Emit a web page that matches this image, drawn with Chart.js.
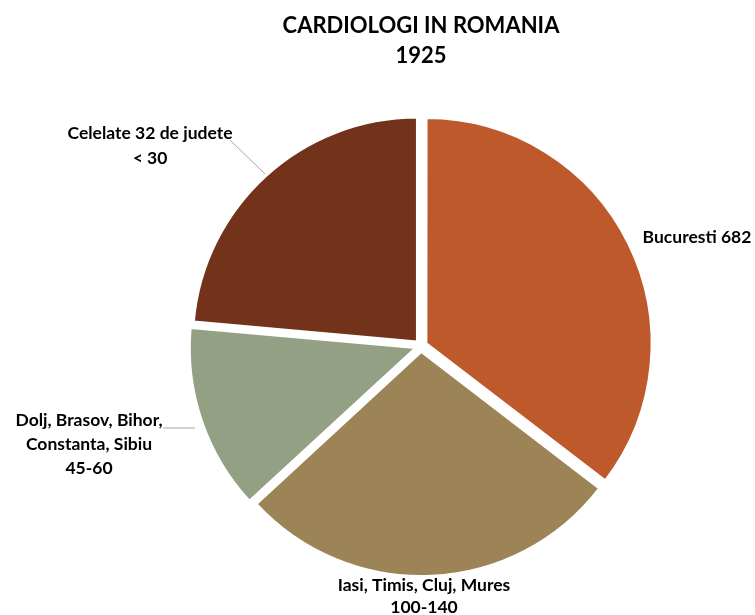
<!DOCTYPE html>
<html>
<head>
<meta charset="utf-8">
<script src="https://cdn.jsdelivr.net/npm/chart.js@4/dist/chart.umd.min.js"></script>
<style>
html, body { margin: 0; padding: 0; background: #fff; }
#wrap { width: 755px; height: 615px; position: relative; }
</style>
</head>
<body>
<div id="wrap"><canvas id="pie"></canvas></div>
<script>
// data (slice sizes estimated from the angles)
const regions = ["Bucuresti", "Iasi, Timis, Cluj, Mures", "Dolj, Brasov, Bihor, Constanta, Sibiu", "Celelate 32 de judete"]
const doctors = [682, 534, 256, 454]
const labelLines = [
    ["Bucuresti 682"],
    ["Iasi, Timis, Cluj, Mures", "100-140"],
    ["Dolj, Brasov, Bihor,", "Constanta, Sibiu", "45-60"],
    ["Celelate 32 de judete", "< 30"]
]
const colors = ["#BE592C", "#9C8456", "#94A084", "#73331A"]

// where each label sits, plus optional leader line
const labelPos = [
    {x: 697, y: 237, step: 0},
    {x: 424, y: 585, step: 22},
    {x: 89, y: 420, step: 24},
    {x: 150, y: 133, step: 25}
]
const leaders = [null, null, [[163, 428], [195, 428]], [[230, 140], [265, 174]]]

const sliceLabels = {
    id: "sliceLabels",
    afterDatasetsDraw(chart) {
        const ctx = chart.ctx
        ctx.save()
        ctx.strokeStyle = "#a6a6a6"
        ctx.lineWidth = 1
        leaders.forEach(function (l) {
            if (!l) return
            ctx.beginPath()
            ctx.moveTo(l[0][0], l[0][1])
            ctx.lineTo(l[1][0], l[1][1])
            ctx.stroke()
        })
        ctx.fillStyle = "#000"
        ctx.font = "bold 17.5px Lato"
        ctx.textAlign = "center"
        ctx.textBaseline = "middle"
        labelLines.forEach(function (lines, i) {
            lines.forEach(function (t, j) {
                ctx.fillText(t, labelPos[i].x, labelPos[i].y + j * labelPos[i].step)
            })
        })
        ctx.restore()
    }
}

new Chart(document.getElementById("pie"), {
    type: "pie",
    data: {
        labels: regions,
        datasets: [{
            data: doctors,
            backgroundColor: colors,
            borderColor: "#ffffff",
            borderWidth: 2,
            offset: 24
        }]
    },
    options: {
        responsive: true,
        maintainAspectRatio: false,
        animation: false,
        events: [],
        layout: {padding: {left: 87, right: 0, top: 0, bottom: 32}},
        plugins: {
            legend: {display: false},
            tooltip: {enabled: false},
            title: {
                display: true,
                text: ["CARDIOLOGI IN ROMANIA", "1925"],
                color: "#000",
                font: {family: "Lato", size: 22, weight: "bold", lineHeight: 1.364},
                padding: {top: 11, bottom: 38}
            }
        }
    },
    plugins: [sliceLabels]
})
</script>
</body>
</html>
